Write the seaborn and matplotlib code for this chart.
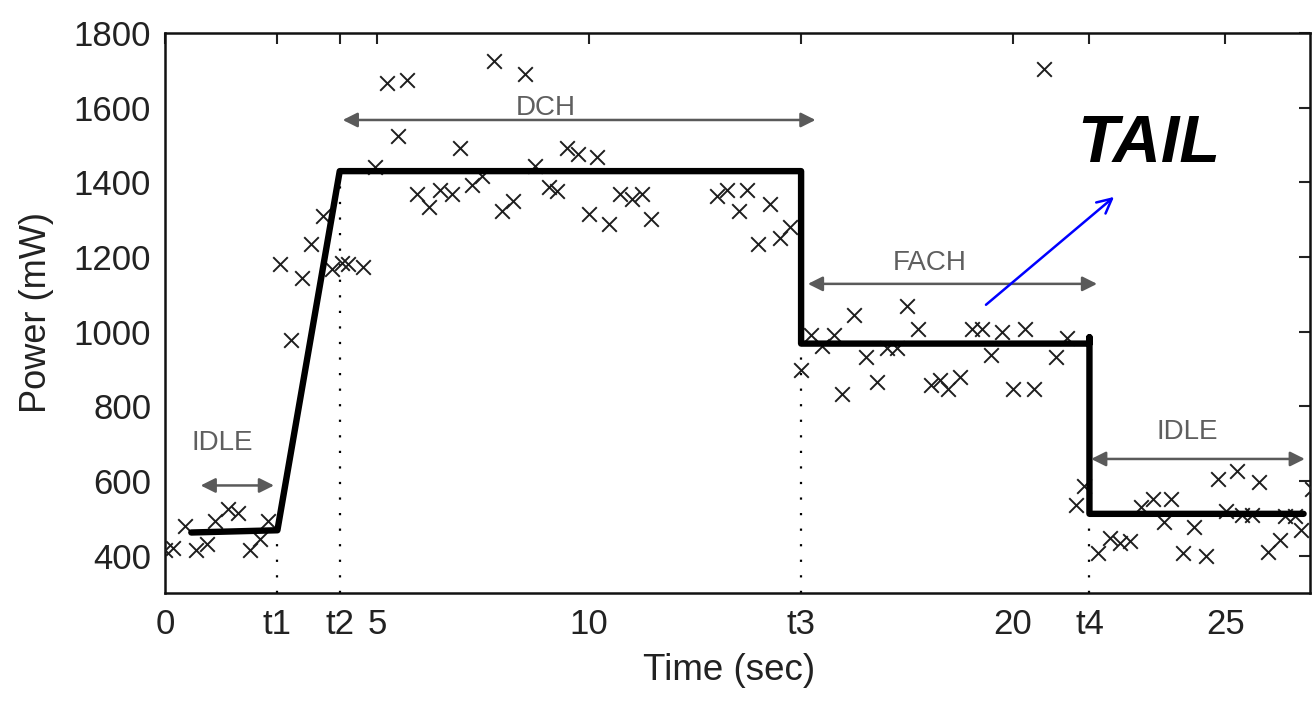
import matplotlib
matplotlib.use("Agg")
import matplotlib.pyplot as plt
import seaborn as sns
import pandas as pd

# ---- data -------------------------------------------------------------
t1, t2, t3, t4 = 2.65, 4.12, 15.0, 21.8

sample_time = [0.0, 0.19, 0.46, 0.74, 0.98, 1.17, 1.49, 1.72, 2.0, 2.24, 2.43,
               2.71, 2.98, 3.24, 3.44, 3.72, 3.93, 4.17, 4.32, 4.66, 4.95,
               5.23, 5.50, 5.70, 5.95, 6.23, 6.49, 6.76, 6.96, 7.24, 7.47,
               7.75, 7.94, 8.20, 8.48, 8.73, 9.05, 9.24, 9.48, 9.75, 10.01,
               10.19, 10.46, 10.74, 11.02, 11.25, 11.46, 13.01, 13.26, 13.53,
               13.73, 13.99, 14.27, 14.50, 14.75,
               14.99, 15.24, 15.49, 15.77, 15.97, 16.24, 16.52, 16.78, 17.02,
               17.26, 17.50, 17.76, 18.07, 18.27, 18.47, 18.75, 19.03, 19.26,
               19.48, 19.74, 20.00, 20.28, 20.49, 20.73, 21.01, 21.28,
               21.49, 21.68, 22.00, 22.28, 22.51, 22.75, 23.02, 23.30, 23.56,
               23.73, 24.01, 24.27, 24.54, 24.82, 25.01, 25.27, 25.39, 25.64,
               25.80, 26.02, 26.29, 26.41, 26.64, 26.79, 27.04]
sample_power = [415, 421, 479, 416, 432, 493, 526, 515, 416, 445, 493,
                1180, 978, 1144, 1236, 1310, 1167, 1184, 1180, 1173, 1442,
                1667, 1523, 1674, 1370, 1333, 1380, 1370, 1493, 1394, 1418,
                1726, 1324, 1349, 1689, 1445, 1387, 1378, 1493, 1477, 1316,
                1469, 1288, 1370, 1355, 1370, 1303, 1364, 1380, 1324,
                1380, 1234, 1342, 1250, 1279,
                897, 991, 962, 991, 834, 1045, 933, 864, 957,
                957, 1068, 1008, 857, 870, 847, 879, 1008, 1008,
                937, 998, 846, 1008, 846, 1703, 933, 982,
                537, 587, 407, 448, 434, 439, 529, 553, 490,
                553, 407, 477, 400, 605, 520, 627, 508, 508,
                598, 409, 443, 506, 506, 470, 578]

model_time = [0.62, t1, t2, t3, t3, t4, t4, t4, 26.85]
model_power = [462, 468, 1430, 1430, 968, 968, 985, 512, 512]

xtick_vals = [0, t1, t2, 5, 10, t3, 20, t4, 25]
xtick_labels = ['0', 't1', 't2', '5', '10', 't3', '20', 't4', '25']
ytick_vals = [400, 600, 800, 1000, 1200, 1400, 1600, 1800]

marker_times = [t1, t2, t3, t4]
marker_tops = [468, 1430, 968, 512]

state_names = ['IDLE', 'DCH', 'FACH', 'IDLE']
state_start = [0.84, 4.19, 15.16, 21.84]
state_end = [2.57, 15.34, 21.98, 26.88]
state_arrow_y = [588, 1567, 1128, 659]
state_label_x = [1.34, 8.97, 18.03, 24.10]
state_label_y = [701, 1600, 1184, 731]

# ---- style ------------------------------------------------------------
sns.set_style("white")
plt.rcParams['font.family'] = ['Liberation Sans', 'DejaVu Sans']

fig = plt.figure(figsize=(13.16, 7.02), dpi=100)
ax = fig.add_axes([0.1254, 0.1553, 0.8700, 0.7977])

points = pd.DataFrame({'time': sample_time, 'power': sample_power})
model = pd.DataFrame({'time': model_time, 'power': model_power})

sns.scatterplot(data=points, x='time', y='power', marker='x', s=110,
                color='#1e1e1e', linewidth=1.4, ax=ax, zorder=3, clip_on=True)
sns.lineplot(data=model, x='time', y='power', sort=False, estimator=None,
             color='black', linewidth=4.6, ax=ax, zorder=4)

for xt, top in zip(marker_times, marker_tops):
    ax.plot([xt, xt], [300, top], linestyle=(0, (1, 6)), color='black',
            linewidth=1.6, zorder=2)

for name, xs, xe, ya, lx, ly in zip(state_names, state_start, state_end,
                                     state_arrow_y, state_label_x, state_label_y):
    ax.annotate('', xy=(xe, ya), xytext=(xs, ya),
                arrowprops=dict(arrowstyle='<|-|>', color='#5a5a5a', lw=1.8,
                                mutation_scale=22, shrinkA=0, shrinkB=0),
                zorder=5)
    ax.text(lx, ly, name, ha='center', va='center', fontsize=20,
            color='#5f5f5f', zorder=5)

ax.annotate('', xy=(22.38, 1361), xytext=(19.36, 1072),
            arrowprops=dict(arrowstyle='->', color='#0000ff', lw=1.8,
                            mutation_scale=26, shrinkA=0, shrinkB=0),
            zorder=6)
ax.text(23.2, 1499, 'TAIL', ha='center', va='center', fontsize=48,
        fontweight='bold', fontstyle='italic', color='black', zorder=6)

ax.set_xlim(0, 27)
ax.set_ylim(300, 1800)
ax.set_xticks(xtick_vals)
ax.set_xticklabels(xtick_labels)
ax.set_yticks(ytick_vals)
ax.tick_params(direction='in', length=8, width=1.5, top=True, right=True,
               labelsize=25, colors='#222222')
ax.tick_params(axis='x', pad=11)
ax.tick_params(axis='y', pad=10)
for sp in ax.spines.values():
    sp.set_visible(True)
    sp.set_color('#111111')
    sp.set_linewidth(1.8)

ax.set_xlabel('Time (sec)', fontsize=26.5, color='#222222')
ax.set_ylabel('Power (mW)', fontsize=26, color='#222222')
ax.xaxis.set_label_coords(0.493, -0.108)
ax.yaxis.set_label_coords(-0.097, 0.5)

fig.savefig('out.png', dpi=100, facecolor='white')
